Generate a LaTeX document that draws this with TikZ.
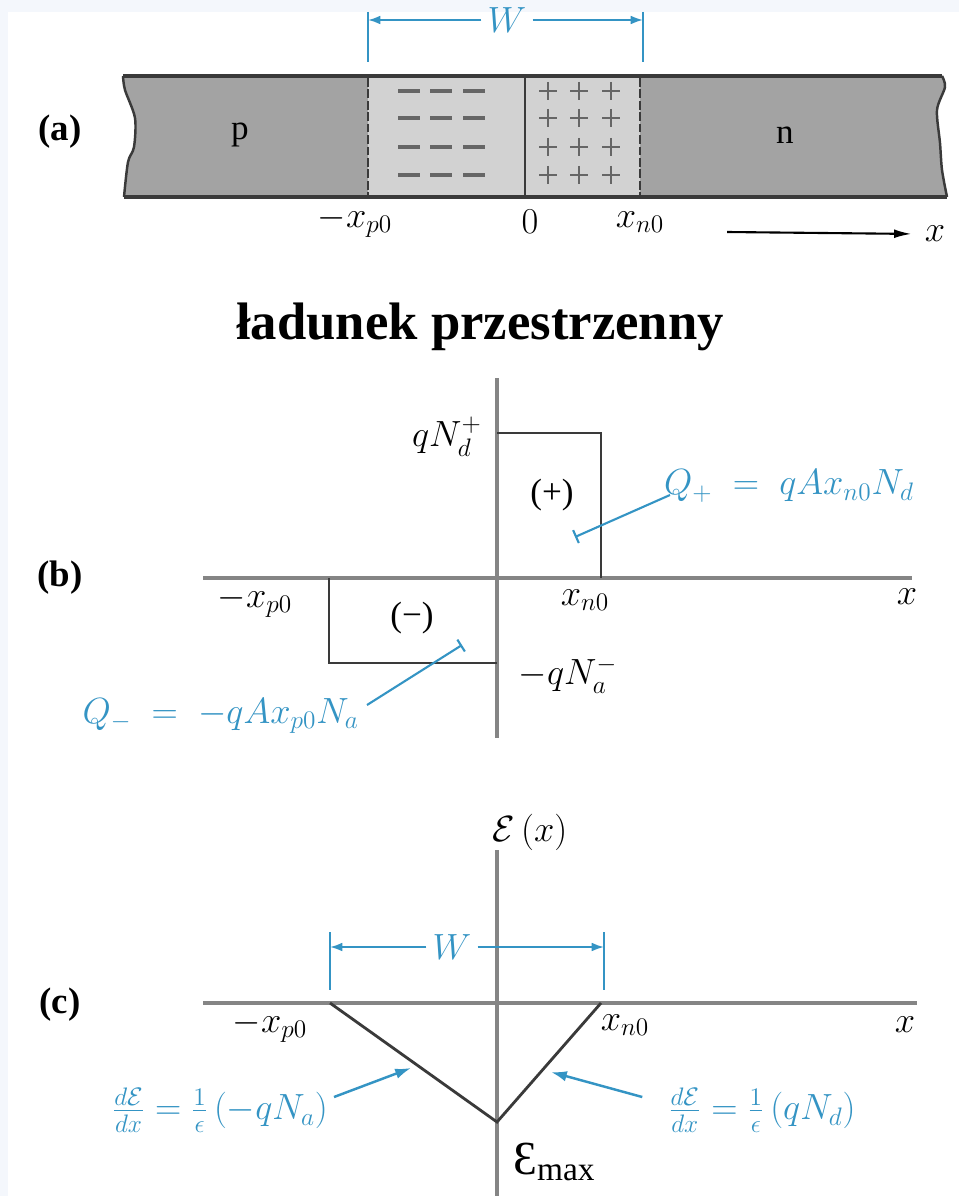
\documentclass[tikz,border=0pt]{standalone}
\usepackage{amsmath}
\usepackage{fontspec}
\setmainfont{Liberation Serif}
\usetikzlibrary{arrows.meta,calc}
\definecolor{framebg}{HTML}{F4F7FC}
\definecolor{dimblue}{HTML}{3494C4}
\definecolor{pngray}{HTML}{A3A3A3}
\definecolor{depgray}{HTML}{D2D2D2}
\definecolor{edgegray}{HTML}{3A3A3A}
\definecolor{axisgray}{HTML}{858585}
\definecolor{signgray}{HTML}{666666}

\begin{document}
\begin{tikzpicture}[x=0.02cm,y=-0.02cm,
  lbl/.style={font=\fontsize{20}{23}\selectfont},
  bluelbl/.style={text=dimblue,font=\fontsize{22}{25}\selectfont},
  panel/.style={font=\fontsize{21}{23}\selectfont\bfseries},
  axisline/.style={axisgray,line width=1.8pt},
  curveline/.style={edgegray,line width=1.6pt},
  dimline/.style={dimblue,line width=1.1pt},
  dimarrow/.style={dimblue,line width=1.1pt,-{Latex[length=7pt,width=5pt]}},
  leader/.style={dimblue,line width=1.2pt,-{Bar[width=8pt]}},
  slopearrow/.style={dimblue,line width=1.4pt,-{Latex[length=9pt,width=6pt]}}]
% background
\fill[framebg] (0,0) rectangle (959,1196);
\fill[white] (8,12) rectangle (959,1196);
\useasboundingbox (0,0) rectangle (959,1196);

% (a) the p-n bar
\fill[pngray] plot[smooth] coordinates {(123,76) (125,90) (135,118) (134,147) (128,162) (124,197)}
  -- plot[smooth] coordinates {(947,197) (942,170) (940,143) (937,110) (945,87) (942,76)} -- cycle;
\fill[depgray] (368,76) rectangle (640,197);
\draw[edgegray,line width=2.4pt] (123,76) -- (942,76) (124,197) -- (947,197);
\draw[edgegray,line width=1.4pt] plot[smooth] coordinates {(123,76) (125,90) (135,118) (134,147) (128,162) (124,197)};
\draw[edgegray,line width=1.4pt] plot[smooth] coordinates {(947,197) (942,170) (940,143) (937,110) (945,87) (942,76)};
\draw[edgegray,line width=1.2pt,dash pattern=on 5pt off 1.5pt] (368,78) -- (368,195) (640,78) -- (640,195);
\draw[edgegray,line width=1.2pt] (525,78) -- (525,195);
\foreach \y in {91,118,147,175} {
  \foreach \x in {409,441,474} \draw[signgray,line width=2.2pt] (\x-11,\y) -- (\x+11,\y);
  \foreach \x in {548,579,611} \draw[signgray,line width=1.5pt] (\x-9,\y) -- (\x+9,\y) (\x,\y-9) -- (\x,\y+9);
}
\node[lbl] (pside) at (240,135) {p};
\node[lbl] (nside) at (785,135) {n};

% W above the bar
\draw[dimline] (368,12) -- (368,62) (643,12) -- (643,62);
\node[bluelbl] (wtop) at (507,20) {$W$};
\coordinate (wtopl) at (368,20);
\coordinate (wtopr) at (643,20);
\draw[dimarrow] (wtop) -- (wtopl);
\draw[dimarrow] (wtop) -- (wtopr);

\node[lbl] (xpa) at (355,222) {$-x_{p0}$};
\node[lbl] (zeroa) at (530,222) {$0$};
\node[lbl] (xna) at (640,222) {$x_{n0}$};
\coordinate (xarr) at (727,232);
\node[lbl] (xa) at (935,234) {$x$};
\draw[black,line width=1.2pt,shorten >=4pt,-{Latex[length=10pt,width=5pt]}] (xarr) -- (xa.west);

\node[panel] (pa) at (60,132) {(a)};
\node[panel] (pb) at (60,578) {(b)};
\node[panel] (pc) at (60,1005) {(c)};

\node[font=\fontsize{30}{34}\selectfont\bfseries] (title) at (480,327) {ładunek przestrzenny};

% (b) charge density
\draw[axisline] (497,378) -- (497,738);
\draw[axisline] (203,578) -- (912,578);
\draw[curveline] (497,433) -- (601,433) -- (601,578);
\draw[curveline] (329,578) -- (329,663) -- (497,663);
\node[lbl,anchor=east] (qnd) at (488,437) {$qN_d^+$};
\node[lbl] (plusb) at (552,495) {(+)};
\node[lbl] (minusb) at (412,618) {(−)};
\node[lbl] (xnb) at (585,600) {$x_{n0}$};
\node[lbl] (xpb) at (255,602) {$-x_{p0}$};
\node[lbl] (xb) at (907,597) {$x$};
\node[lbl] (qna) at (568,675) {$-qN_a^-$};
\node[bluelbl,anchor=west] (qplus) at (658,486) {$Q_+ \;=\; qAx_{n0}N_d$};
\coordinate (qptip) at (575,537);
\draw[leader] ($(qplus.west)+(12,9)$) -- (qptip);
\node[bluelbl,anchor=east] (qminus) at (365,716) {$Q_- \;=\; -qAx_{p0}N_a$};
\coordinate (qmtip) at (462,645);
\draw[leader] ($(qminus.east)+(2,-11)$) -- (qmtip);

% (c) electric field
\draw[axisline] (497,850) -- (497,1196);
\draw[axisline] (203,1003) -- (917,1003);
\node[lbl] (efield) at (530,832) {$\mathcal{E}\,(x)$};
\draw[dimline] (330,932) -- (330,990) (604,932) -- (604,990);
\node[bluelbl] (wbot) at (452,947) {$W$};
\coordinate (wbotl) at (330,947);
\coordinate (wbotr) at (604,947);
\draw[dimarrow] (wbot) -- (wbotl);
\draw[dimarrow] (wbot) -- (wbotr);
\draw[curveline] (330,1003) -- (497,1122) -- (601,1003);
\node[lbl] (xpc) at (270,1027) {$-x_{p0}$};
\node[lbl] (xnc) at (625,1025) {$x_{n0}$};
\node[lbl] (xc) at (905,1025) {$x$};
\node[bluelbl] (slopel) at (220,1110) {$\frac{d\mathcal{E}}{dx}=\frac{1}{\epsilon}\,(-qN_a)$};
\coordinate (slopeltip) at (411,1068);
\draw[slopearrow] ($(slopel.east)+(0,-13)$) -- (slopeltip);
\node[bluelbl] (sloper) at (762,1110) {$\frac{d\mathcal{E}}{dx}=\frac{1}{\epsilon}\,(qN_d)$};
\coordinate (slopertip) at (551,1072);
\draw[slopearrow] ($(sloper.west)+(-20,-13)$) -- (slopertip);
\node (emax) at (554,1162) {\fontsize{27}{30}\selectfont Ɛ\raisebox{-0.3ex}{\fontsize{19}{20}\selectfont max}};
\end{tikzpicture}
\end{document}
